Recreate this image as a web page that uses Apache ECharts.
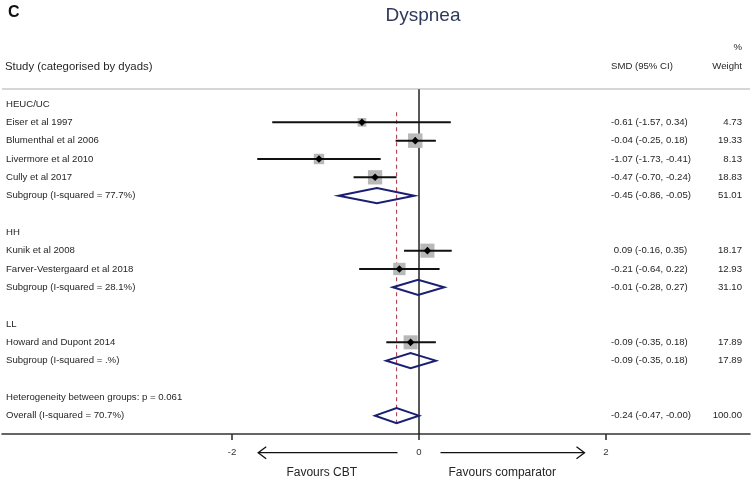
<!DOCTYPE html>
<html>
<head>
<meta charset="utf-8">
<script src="https://cdn.jsdelivr.net/npm/echarts@6/dist/echarts.min.js"></script>
<style>
html,body{margin:0;padding:0;background:#fff;}
#chart{width:753px;height:481px;}
</style>
</head>
<body>
<div id="chart"></div>
<script>
// ---------- data ----------
const rowLabels = [
  'HEUC/UC',
  'Eiser et al 1997',
  'Blumenthal et al 2006',
  'Livermore et al 2010',
  'Cully et al 2017',
  'Subgroup (I-squared = 77.7%)',
  '',
  'HH',
  'Kunik et al 2008',
  'Farver-Vestergaard et al 2018',
  'Subgroup (I-squared = 28.1%)',
  '',
  'LL',
  'Howard and Dupont 2014',
  'Subgroup (I-squared = .%)',
  '',
  'Heterogeneity between groups: p = 0.061',
  'Overall (I-squared = 70.7%)'
];
const rowKind = ['group','study','study','study','study','pooled','blank','group','study','study','pooled','blank','group','study','pooled','blank','note','pooled'];
const smd    = [null,-0.61,-0.04,-1.07,-0.47,-0.45,null,null, 0.09,-0.21,-0.01,null,null,-0.09,-0.09,null,null,-0.24];
const ciLow  = [null,-1.57,-0.25,-1.73,-0.70,-0.86,null,null,-0.16,-0.64,-0.28,null,null,-0.35,-0.35,null,null,-0.47];
const ciHigh = [null, 0.34, 0.18,-0.41,-0.24,-0.05,null,null, 0.35, 0.22, 0.27,null,null, 0.18, 0.18,null,null,-0];
const weight = [null, 4.73,19.33, 8.13,18.83,51.01,null,null,18.17,12.93,31.10,null,null,17.89,17.89,null,null,100.00];
const overallSMD = -0.24;
const xTicks = [-2, 0, 2];
const favourLabels = ['Favours CBT', 'Favours comparator'];
const headerStudy = 'Study (categorised by dyads)';
const headerSMD = 'SMD (95% CI)';
const headerWeight = ['%', 'Weight'];

// ---------- helpers ----------
function fmt(v){
  let s = Math.abs(v).toFixed(2);
  const neg = v < 0 || Object.is(v, -0);
  return (neg ? '-' : '') + s;
}
function ciString(i){
  const e = smd[i];
  const lead = (e < 0 || Object.is(e,-0)) ? '' : ' ';
  return lead + fmt(e) + ' (' + fmt(ciLow[i]) + ', ' + fmt(ciHigh[i]) + ')';
}
const rows = rowLabels.map((_, i) => i);
const studyRows = rows.filter(i => rowKind[i] === 'study');
const pooledRows = rows.filter(i => rowKind[i] === 'pooled');

const TXT = '#262626';
const FONT = '"Liberation Sans", Arial, sans-serif';
const NAVY = '#1b1f73';

const chart = echarts.init(document.getElementById('chart'), null, {renderer:'canvas'});

const option = {
  animation: false,
  backgroundColor: '#fff',
  title: {
    text: 'Dyspnea',
    left: 418, top: 1, textAlign: 'center',
    textStyle: {fontFamily: FONT, fontSize: 19, fontWeight: 'normal', color: '#2f3a5a'}
  },
  grid: {left: 2, right: 3, top: 85.65, bottom: 47},
  xAxis: {
    type: 'value',
    min: -4.46, max: 3.54,
    splitLine: {show: false},
    axisLine: {show: true, onZero: false, lineStyle: {color: '#333', width: 1.6}},
    axisTick: {show: true, customValues: xTicks, length: 6, inside: false, lineStyle: {color: '#333', width: 1.6}},
    axisLabel: {show: true, customValues: xTicks, margin: 13, fontFamily: FONT, fontSize: 9.6, color: '#333',
      formatter: v => String(v)}
  },
  yAxis: {
    type: 'value', inverse: true, min: -1, max: 18,
    show: false
  },
  graphic: [
    {type: 'text', left: 8, top: 5, style: {text: 'C', font: 'bold 16px ' + FONT, fill: '#111'}},
    {type: 'line', shape: {x1: 2, y1: 89, x2: 750, y2: 89}, style: {stroke: '#c8c8c8', lineWidth: 1.3}}
  ],
  series: [
    // reference lines
    {
      type: 'custom', coordinateSystem: 'cartesian2d', clip: false, silent: true, z: 1,
      data: [[0, 0]],
      renderItem: function(params, api){
        const top0 = api.coord([0, -0.8]);
        const bot0 = api.coord([0, 18]);
        const topD = api.coord([overallSMD, 0.45]);
        const botD = api.coord([overallSMD, 17.5]);
        return {type: 'group', children: [
          {type: 'line', shape: {x1: top0[0], y1: top0[1], x2: bot0[0], y2: bot0[1]}, style: {stroke: '#111', lineWidth: 1.4}},
          {type: 'line', shape: {x1: topD[0], y1: topD[1], x2: botD[0], y2: botD[1]}, style: {stroke: '#b04250', lineWidth: 1.1, lineDash: [4, 3.5]}}
        ]};
      }
    },
    // study CIs and weight squares
    {
      type: 'custom', coordinateSystem: 'cartesian2d', clip: false, silent: true, z: 3,
      data: studyRows.map(i => [smd[i], i, ciLow[i], ciHigh[i], weight[i]]),
      renderItem: function(params, api){
        const row = api.value(1);
        const e = api.coord([api.value(0), row]);
        const l = api.coord([api.value(2), row]);
        const h = api.coord([api.value(3), row]);
        const s = 3 + 2.6 * Math.sqrt(api.value(4));
        const d = 3.8;
        return {type: 'group', children: [
          {type: 'rect', shape: {x: e[0] - s/2, y: e[1] - s/2, width: s, height: s}, style: {fill: '#b8b8b8'}},
          {type: 'line', shape: {x1: l[0], y1: l[1], x2: h[0], y2: h[1]}, style: {stroke: '#111', lineWidth: 2}},
          {type: 'polygon', shape: {points: [[e[0]-d, e[1]], [e[0], e[1]-d], [e[0]+d, e[1]], [e[0], e[1]+d]]}, style: {fill: '#000'}}
        ]};
      }
    },
    // pooled diamonds
    {
      type: 'custom', coordinateSystem: 'cartesian2d', clip: false, silent: true, z: 2,
      data: pooledRows.map(i => [smd[i], i, ciLow[i], ciHigh[i]]),
      renderItem: function(params, api){
        const row = api.value(1);
        const e = api.coord([api.value(0), row]);
        const l = api.coord([api.value(2), row]);
        const h = api.coord([api.value(3), row]);
        const hh = 7.6;
        return {type: 'polygon', shape: {points: [[l[0], l[1]], [e[0], e[1]-hh], [h[0], h[1]], [e[0], e[1]+hh]]},
          style: {fill: 'rgba(255,255,255,0)', stroke: NAVY, lineWidth: 2}};
      }
    },
    // text columns
    {
      type: 'custom', coordinateSystem: 'cartesian2d', clip: false, silent: true, z: 5,
      data: rows.map(i => [0, i]),
      renderItem: function(params, api){
        const i = params.dataIndex;
        const y = api.coord([0, i])[1];
        const kids = [];
        if (rowLabels[i]) {
          kids.push({type: 'text', style: {text: rowLabels[i], x: 6, y: y, fill: TXT, font: '9.6px ' + FONT, verticalAlign: 'middle', align: 'left'}});
        }
        if (smd[i] !== null) {
          kids.push({type: 'text', style: {text: ciString(i), x: 611, y: y, fill: TXT, font: '9.6px ' + FONT, verticalAlign: 'middle', align: 'left'}});
          kids.push({type: 'text', style: {text: weight[i].toFixed(2), x: 742, y: y, fill: TXT, font: '9.6px ' + FONT, verticalAlign: 'middle', align: 'right'}});
        }
        return {type: 'group', children: kids};
      }
    },
    // header texts
    {
      type: 'custom', coordinateSystem: 'cartesian2d', clip: false, silent: true, z: 5,
      data: [[0, -2]],
      renderItem: function(params, api){
        const yh = api.coord([0, -2.03])[1];
        const yp = api.coord([0, -3.1])[1];
        return {type: 'group', children: [
          {type: 'text', style: {text: headerStudy, x: 5, y: yh, fill: TXT, font: '11.4px ' + FONT, verticalAlign: 'middle', align: 'left'}},
          {type: 'text', style: {text: headerSMD, x: 611, y: yh, fill: TXT, font: '9.6px ' + FONT, verticalAlign: 'middle', align: 'left'}},
          {type: 'text', style: {text: headerWeight[1], x: 742, y: yh, fill: TXT, font: '9.6px ' + FONT, verticalAlign: 'middle', align: 'right'}},
          {type: 'text', style: {text: headerWeight[0], x: 742, y: yp, fill: TXT, font: '9.6px ' + FONT, verticalAlign: 'middle', align: 'right'}}
        ]};
      }
    },
    // favour arrows and labels
    {
      type: 'custom', coordinateSystem: 'cartesian2d', clip: false, silent: true, z: 5,
      data: [[0, 19]],
      renderItem: function(params, api){
        const aL1 = api.coord([-0.23, 19.02]), aL2 = api.coord([-1.72, 19.02]);
        const aR1 = api.coord([0.23, 19.02]), aR2 = api.coord([1.77, 19.02]);
        const tL = api.coord([-1.04, 20.1]), tR = api.coord([0.89, 20.1]);
        const hw = 8, hh = 6;
        const st = {stroke: '#111', lineWidth: 1.3, fill: null};
        return {type: 'group', children: [
          {type: 'line', shape: {x1: aL1[0], y1: aL1[1], x2: aL2[0], y2: aL2[1]}, style: st},
          {type: 'polyline', shape: {points: [[aL2[0]+hw, aL2[1]-hh], [aL2[0], aL2[1]], [aL2[0]+hw, aL2[1]+hh]]}, style: st},
          {type: 'line', shape: {x1: aR1[0], y1: aR1[1], x2: aR2[0], y2: aR2[1]}, style: st},
          {type: 'polyline', shape: {points: [[aR2[0]-hw, aR2[1]-hh], [aR2[0], aR2[1]], [aR2[0]-hw, aR2[1]+hh]]}, style: st},
          {type: 'text', style: {text: favourLabels[0], x: tL[0], y: tL[1], fill: TXT, font: '12px ' + FONT, verticalAlign: 'middle', align: 'center'}},
          {type: 'text', style: {text: favourLabels[1], x: tR[0], y: tR[1], fill: TXT, font: '12px ' + FONT, verticalAlign: 'middle', align: 'center'}}
        ]};
      }
    }
  ]
};
chart.setOption(option);
</script>
</body>
</html>
